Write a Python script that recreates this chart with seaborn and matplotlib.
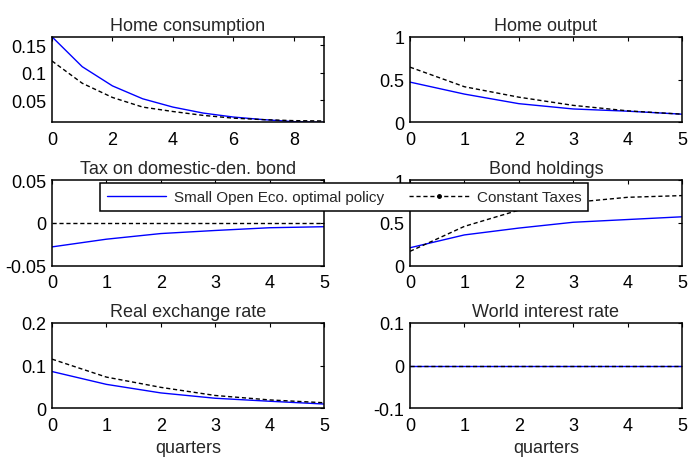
import numpy as np
import pandas as pd
import matplotlib
matplotlib.use("Agg")
import matplotlib.pyplot as plt
from matplotlib.lines import Line2D
import seaborn as sns

# Impulse responses: optimal policy vs. constant taxes
series_names = ["Small Open Eco. optimal policy", "Constant Taxes"]

quarters_long = list(range(10))
quarters = list(range(6))

consumption_opt = [0.165, 0.111, 0.0763, 0.053, 0.038, 0.0272, 0.020, 0.0153, 0.0117, 0.0105]
consumption_const = [0.1213, 0.0811, 0.0554, 0.038, 0.030, 0.023, 0.018, 0.0153, 0.0135, 0.0129]

output_opt = [0.47, 0.33, 0.218, 0.156, 0.13, 0.095]
output_const = [0.645, 0.416, 0.294, 0.198, 0.134, 0.095]

tax_opt = [-0.028, -0.019, -0.0124, -0.0088, -0.0056, -0.0044]
tax_const = [0.0, 0.0, 0.0, 0.0, 0.0, 0.0]

bonds_opt = [0.21, 0.36, 0.44, 0.508, 0.54, 0.572]
bonds_const = [0.168, 0.46, 0.65, 0.74, 0.80, 0.82]

rer_opt = [0.086, 0.056, 0.036, 0.0235, 0.0165, 0.010]
rer_const = [0.115, 0.073, 0.049, 0.030, 0.0196, 0.013]

rate_opt = [0.0, 0.0, 0.0, 0.0, 0.0, 0.0]
rate_const = [0.0, 0.0, 0.0, 0.0, 0.0, 0.0]

titles = ["Home consumption", "Home output", "Tax on domestic-den. bond",
          "Bond holdings", "Real exchange rate", "World interest rate"]

yticks = [[0.05, 0.1, 0.15], [0, 0.5, 1], [-0.05, 0, 0.05],
          [0, 0.5, 1], [0, 0.1, 0.2], [-0.1, 0, 0.1]]
ytick_labels = [["0.05", "0.1", "0.15"], ["0", "0.5", "1"], ["-0.05", "0", "0.05"],
                ["0", "0.5", "1"], ["0", "0.1", "0.2"], ["-0.1", "0", "0.1"]]
ylims = [None, (0, 1), (-0.05, 0.05), (0, 1), (0, 0.2), (-0.1, 0.1)]

panels = [
    (quarters_long, consumption_opt, consumption_const),
    (quarters, output_opt, output_const),
    (quarters, tax_opt, tax_const),
    (quarters, bonds_opt, bonds_const),
    (quarters, rer_opt, rer_const),
    (quarters, rate_opt, rate_const),
]

sns.set_style("white")
plt.rcParams["font.family"] = ["Liberation Sans", "DejaVu Sans"]
plt.rcParams["axes.unicode_minus"] = False

palette = {series_names[0]: "#0000ff", series_names[1]: "#000000"}
dashes = {series_names[0]: "", series_names[1]: (3, 2)}

fig = plt.figure(figsize=(6.89, 4.6), dpi=100)

W = 689.0
H = 460.0
col_left = [52 / W, 410 / W]
col_width = 272 / W
row_bottom = [1 - 123.3 / H, 1 - 266.7 / H, 1 - 409.3 / H]
row_height = 85.5 / H

for i, (x, y_opt, y_const) in enumerate(panels):
    r, c = divmod(i, 2)
    ax = fig.add_axes([col_left[c], row_bottom[r], col_width, row_height])
    df = pd.DataFrame({
        "quarter": list(x) + list(x),
        "value": list(y_opt) + list(y_const),
        "policy": [series_names[0]] * len(x) + [series_names[1]] * len(x),
    })
    sns.lineplot(data=df, x="quarter", y="value", hue="policy", style="policy",
                 palette=palette, dashes=dashes, hue_order=series_names,
                 style_order=series_names, linewidth=1.0, ax=ax, legend=False)
    ax.set_xlim(x[0], x[-1])
    if ylims[i] is None:
        lo = min(min(y_opt), min(y_const))
        hi = max(max(y_opt), max(y_const))
        ax.set_ylim(lo, hi)
    else:
        ax.set_ylim(*ylims[i])
    ax.set_yticks(yticks[i])
    ax.set_yticklabels(ytick_labels[i])
    if i == 0:
        ax.set_xticks([0, 2, 4, 6, 8])
    else:
        ax.set_xticks(quarters)
    ax.set_title(titles[i], fontsize=13, pad=5)
    ax.set_ylabel("")
    ax.set_xlabel("quarters" if r == 2 else "", fontsize=13, labelpad=4)
    ax.tick_params(direction="in", length=3, width=0.8, top=True, right=True,
                   labelsize=13, pad=4, colors="black")
    ax.tick_params(axis="x", pad=6)
    for sp in ax.spines.values():
        sp.set_visible(True)
        sp.set_color("black")
        sp.set_linewidth(1.1)

handles = [
    Line2D([], [], color="#0000ff", linewidth=1.0),
    Line2D([], [], color="black", linewidth=1.0, linestyle=(0, (3, 2)),
           marker=".", markersize=5),
]
leg = fig.legend(handles, series_names, ncol=2, mode="expand",
                 bbox_to_anchor=(100 / W, 1 - 214.3 / H, 488 / W, 32 / H),
                 loc="center", fontsize=11, frameon=True, fancybox=False,
                 handlelength=3.9, handletextpad=0.5, borderaxespad=0,
                 borderpad=0.45)
leg.get_frame().set_edgecolor("black")
leg.get_frame().set_linewidth(1.1)
leg.get_frame().set_alpha(1)

fig.savefig("out.png", dpi=100, facecolor="white")
